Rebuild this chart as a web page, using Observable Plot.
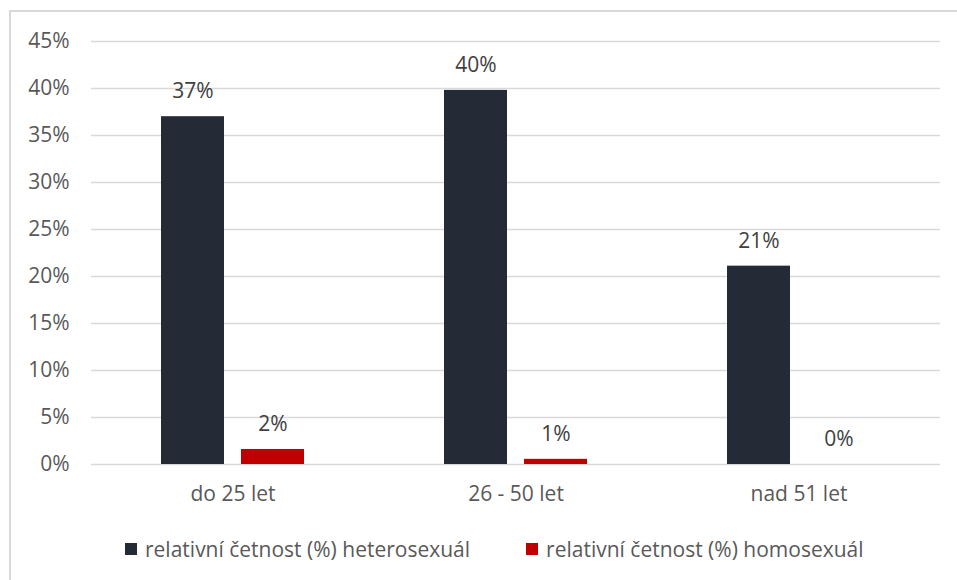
<!DOCTYPE html>
<html>
<head>
<meta charset="utf-8">
<script src="https://cdn.jsdelivr.net/npm/d3@7"></script>
<script src="https://cdn.jsdelivr.net/npm/@observablehq/plot@0.6"></script>
<style>
  html, body { margin: 0; padding: 0; background: #fff; overflow: hidden; width: 957px; height: 580px; }
  #frame { position: absolute; left: 9px; top: 10px; width: 1000px; height: 1000px; border: 2px solid #d9d9d9; box-sizing: border-box; }
  #chart { position: absolute; left: 0; top: 0; }
  #legend { position: absolute; left: 125px; top: 534px; height: 30px; display: flex; align-items: center; font-family: "Open Sans", sans-serif; font-size: 21px; color: #595959; }
  .item { display: flex; align-items: center; }
  .sw { width: 12px; height: 12px; margin-right: 8px; }
</style>
</head>
<body>
<div id="frame"></div>
<div id="chart"></div>
<div id="legend"></div>
<script>
const categories = ["do 25 let", "26 - 50 let", "nad 51 let"];
const seriesNames = ["relativní četnost (%) heterosexuál", "relativní četnost (%) homosexuál"];
const hetero = [37.0, 39.8, 21.1];
const homo = [1.6, 0.55, 0];
const yTicks = [0, 5, 10, 15, 20, 25, 30, 35, 40, 45];
const colors = ["#242a36", "#c00000"];

const data = categories.flatMap((c, i) => [
  {cat: c, series: seriesNames[0], v: hetero[i]},
  {cat: c, series: seriesNames[1], v: homo[i]}
]);

const chart = Plot.plot({
  width: 957,
  height: 520,
  marginLeft: 90,
  marginRight: 16,
  marginTop: 41,
  marginBottom: 56,
  style: {fontFamily: "'Open Sans', sans-serif", fontSize: "21px", color: "#595959", background: "transparent"},
  fx: {domain: categories, padding: 0, label: null, axis: "bottom", tickSize: 0, tickPadding: 22},
  x: {domain: seriesNames, paddingInner: 0.21, paddingOuter: 0.857, axis: null},
  y: {domain: [0, 45], ticks: yTicks, tickFormat: d => d + "%", tickSize: 0, tickPadding: 22, label: null},
  color: {domain: seriesNames, range: colors},
  marks: [
    Plot.ruleY(yTicks, {stroke: "#d9d9d9", strokeWidth: 1.5}),
    Plot.barY(data, {fx: "cat", x: "series", y: "v", fill: "series"}),
    Plot.text(data, {fx: "cat", x: "series", y: "v", text: d => Math.round(d.v) + "%", dy: -25, fill: "#404040"})
  ]
});
document.getElementById("chart").appendChild(chart);

const legend = document.getElementById("legend");
seriesNames.forEach((s, i) => {
  const item = document.createElement("div");
  item.className = "item";
  if (i > 0) item.style.marginLeft = "56px";
  const sw = document.createElement("div");
  sw.className = "sw";
  sw.style.background = colors[i];
  const t = document.createElement("span");
  t.textContent = s;
  item.appendChild(sw);
  item.appendChild(t);
  legend.appendChild(item);
});
</script>
</body>
</html>
